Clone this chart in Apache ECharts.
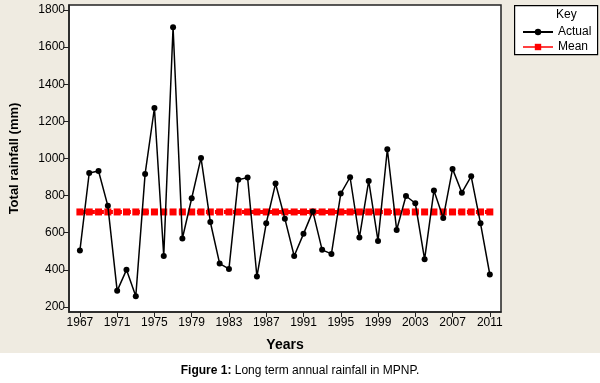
<!DOCTYPE html>
<html>
<head>
<meta charset="utf-8">
<script src="https://cdn.jsdelivr.net/npm/echarts@6/dist/echarts.min.js"></script>
<style>
  html, body { margin: 0; padding: 0; background: #fff; }
  #bg { position: absolute; left: 0; top: 0; width: 600px; height: 353px; background: #efebe1; }
  #chart { position: absolute; left: 0; top: 0; width: 600px; height: 383px; }
</style>
</head>
<body>
<div id="bg"></div>
<div id="chart"></div>
<script>
// years 1967..2011
var years = [1967, 1968, 1969, 1970, 1971, 1972, 1973, 1974, 1975, 1976,
             1977, 1978, 1979, 1980, 1981, 1982, 1983, 1984, 1985, 1986,
             1987, 1988, 1989, 1990, 1991, 1992, 1993, 1994, 1995, 1996,
             1997, 1998, 1999, 2000, 2001, 2002, 2003, 2004, 2005, 2006,
             2007, 2008, 2009, 2010, 2011];
// annual rainfall (mm)
var actual = [504, 922, 933, 745, 287, 400, 258, 917, 1272, 475,
              1707, 569, 786, 1003, 658, 434, 405, 885, 897, 364,
              651, 865, 676, 475, 594, 715, 508, 486, 811, 899,
              574, 879, 556, 1050, 615, 798, 759, 457, 827, 680,
              944, 816, 904, 651, 375];
var meanValue = 712;
var xTicks = [1967, 1971, 1975, 1979, 1983, 1987, 1991, 1995, 1999, 2003, 2007, 2011];
var yTicks = [200, 400, 600, 800, 1000, 1200, 1400, 1600, 1800];

var actualData = [], meanData = [];
years.forEach(function (y, i) {
    actualData.push([y, actual[i]]);
    meanData.push([y, meanValue]);
});

var font = 'Liberation Sans';
function plain(v) { return String(v); }

var chart = echarts.init(document.getElementById('chart'));
var option = {
    animation: false,
    backgroundColor: 'transparent',
    textStyle: { fontFamily: font },
    grid: {
        left: 65, top: 5, width: 436, height: 307,
        show: true, backgroundColor: '#fff',
        borderColor: '#222', borderWidth: 1.5
    },
    xAxis: {
        type: 'value', min: 1965.83, max: 2012.2,
        name: 'Years', nameLocation: 'middle', nameGap: 26,
        nameTextStyle: { fontWeight: 'bold', fontSize: 14, color: '#000', fontFamily: font },
        splitLine: { show: false },
        axisLine: { show: true, lineStyle: { color: '#222', width: 1.5 } },
        axisTick: { show: true, length: 5, customValues: xTicks, lineStyle: { color: '#222' } },
        axisLabel: { customValues: xTicks, formatter: plain, color: '#000', fontSize: 12, margin: 5, fontFamily: font }
    },
    yAxis: {
        type: 'value', min: 173, max: 1827,
        name: 'Total rainfall (mm)', nameLocation: 'middle', nameGap: 48, nameRotate: 90,
        nameTextStyle: { fontWeight: 'bold', fontSize: 13, color: '#000', fontFamily: font },
        splitLine: { show: false },
        axisLine: { show: true, lineStyle: { color: '#222', width: 1.5 } },
        axisTick: { show: true, length: 5, customValues: yTicks, lineStyle: { color: '#222' } },
        axisLabel: { customValues: yTicks, formatter: plain, color: '#000', fontSize: 12, margin: 4, fontFamily: font }
    },
    legend: {
        left: 517, top: 21, orient: 'vertical',
        itemWidth: 30, itemHeight: 8, itemGap: 3,
        textStyle: { fontSize: 12, color: '#000', fontFamily: font },
        data: [
            { name: 'Actual', lineStyle: { width: 2 } },
            { name: 'Mean', lineStyle: { type: 'solid', width: 1.5 } }
        ]
    },
    graphic: [
        { type: 'rect', left: 514, top: 5, shape: { width: 83, height: 49 },
          style: { fill: '#fff', stroke: '#000', lineWidth: 1.2 }, z: -1 },
        { type: 'text', left: 556, top: 9,
          style: { text: 'Key', fontSize: 12, fill: '#000', fontFamily: font } },
        { type: 'text', left: 'center', top: 365,
          style: { rich: { b: { fontWeight: 'bold', fontSize: 12, fontFamily: font },
                           n: { fontSize: 12, fontFamily: font } },
                   text: '{b|Figure 1:}{n| Long term annual rainfall in MPNP.}', fill: '#000' } }
    ],
    series: [
        {
            name: 'Mean', type: 'line', data: meanData,
            symbol: 'rect', symbolSize: 7,
            itemStyle: { color: '#ff0000' },
            lineStyle: { color: '#ff0000', width: 4, type: [6, 3] },
            z: 2
        },
        {
            name: 'Actual', type: 'line', data: actualData,
            symbol: 'circle', symbolSize: 6,
            itemStyle: { color: '#000' },
            lineStyle: { color: '#000', width: 1.5 },
            z: 3
        }
    ]
};
chart.setOption(option);
</script>
</body>
</html>
